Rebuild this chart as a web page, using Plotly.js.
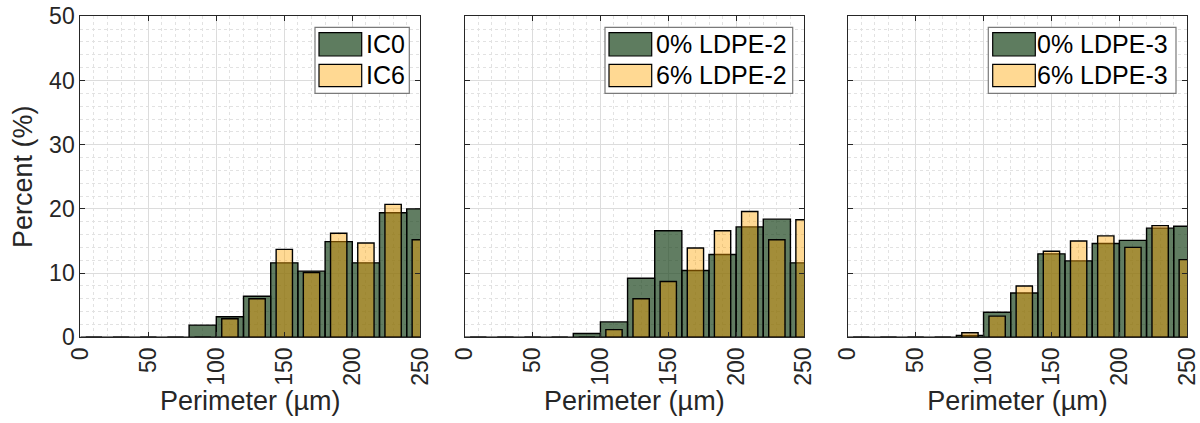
<!DOCTYPE html>
<html>
<head>
<meta charset="utf-8">
<script src="https://cdn.plot.ly/plotly-3.0.1.min.js"></script>
<style>html,body{margin:0;padding:0;background:#fff;}#chart{width:1200px;height:423px;}</style>
</head>
<body>
<div id="chart"></div>
<script>
// ---- data ----
const binCenters = [10, 30, 50, 70, 90, 110, 130, 150, 170, 190, 210, 230, 250];
const ic0   = [0, 0, 0, 0, 1.9, 3.2, 6.4, 11.6, 10.3, 14.9, 11.6, 19.4, 20.0];
const ic6   = [0, 0, 0, 0, 0,   2.9, 6.0, 13.7, 10.1, 16.2, 14.7, 20.7, 15.2];
const ldpe2_0 = [0, 0, 0, 0, 0.6, 2.4, 9.2, 16.6, 10.4, 12.9, 17.2, 18.4, 11.6];
const ldpe2_6 = [0, 0, 0, 0, 0,   1.2, 6.0, 8.7,  13.9, 16.6, 19.6, 15.2, 18.3];
const ldpe3_0 = [0, 0, 0, 0, 0.3, 3.9, 6.9, 13.0, 11.9, 14.6, 15.1, 17.0, 17.3];
const ldpe3_6 = [0, 0, 0, 0, 0.7, 3.3, 8.0, 13.4, 15.0, 15.8, 14.0, 17.4, 12.1];
const names = [["IC0", "IC6"], ["0% LDPE-2", "6% LDPE-2"], ["0% LDPE-3", "6% LDPE-3"]];
const xTicks = [0, 50, 100, 150, 200, 250];
const yTicks = [0, 10, 20, 30, 40, 50];

// ---- styling ----
const W = 1200, H = 423;
const GREEN = 'rgba(30,70,32,0.70)';
const ORANGE = 'rgba(255,165,0,0.42)';
const FONT = '"Liberation Sans", Arial, Helvetica, sans-serif';
const AXC = '#262626';
const px = v => v / W;
const py = v => 1 - v / H;

const panels = [[80.3, 420.3], [464.7, 804.0], [847.7, 1187.3]];
const yTop = 16.3, yBot = 337.3;
const series = [[ic0, ic6], [ldpe2_0, ldpe2_6], [ldpe3_0, ldpe3_6]];

const traces = [];
series.forEach((s, i) => {
  const xa = i === 0 ? 'x' : 'x' + (i + 1);
  const ya = i === 0 ? 'y' : 'y' + (i + 1);
  traces.push({type: 'bar', x: binCenters, y: s[0], width: 20, name: names[i][0], xaxis: xa, yaxis: ya,
    marker: {color: GREEN, line: {color: '#000', width: 1.4}}, showlegend: false, hoverinfo: 'x+y+name'});
  traces.push({type: 'bar', x: binCenters, y: s[1], width: 12, name: names[i][1], xaxis: xa, yaxis: ya,
    marker: {color: ORANGE, line: {color: '#000', width: 1.4}}, showlegend: false, hoverinfo: 'x+y+name'});
});

const layout = {
  width: W, height: H,
  margin: {l: 0, r: 0, t: 0, b: 0},
  paper_bgcolor: '#fff', plot_bgcolor: '#fff',
  barmode: 'overlay', bargap: 0,
  font: {family: FONT, size: 23, color: AXC},
  showlegend: false,
  shapes: [], annotations: []
};

panels.forEach((p, i) => {
  const sfx = i === 0 ? '' : String(i + 1);
  layout['xaxis' + sfx] = {
    domain: [px(p[0]), px(p[1])], anchor: 'y' + sfx, range: [0, 250],
    tickvals: xTicks, ticktext: xTicks.map(String), tickangle: -90,
    ticks: 'inside', ticklen: 5, tickcolor: AXC, tickwidth: 1,
    showline: true, linecolor: AXC, linewidth: 1, mirror: 'ticks',
    showgrid: true, gridcolor: '#dcdcdc', gridwidth: 1, zeroline: false,
    minor: {dtick: 10, showgrid: true, gridcolor: '#e2e2e2', griddash: 'dot', gridwidth: 1},
    tickfont: {family: FONT, size: 23, color: AXC},
    title: {text: 'Perimeter (µm)', font: {family: FONT, size: 27, color: AXC}, standoff: 6},
    fixedrange: true
  };
  layout['yaxis' + sfx] = {
    domain: [py(yBot), py(yTop)], anchor: 'x' + sfx, range: [0, 50],
    tickvals: yTicks, ticktext: yTicks.map(String), showticklabels: i === 0,
    ticks: 'inside', ticklen: 5, tickcolor: AXC, tickwidth: 1,
    showline: true, linecolor: AXC, linewidth: 1, mirror: 'ticks',
    showgrid: true, gridcolor: '#dcdcdc', gridwidth: 1, zeroline: false,
    minor: {dtick: 2, showgrid: true, gridcolor: '#e2e2e2', griddash: 'dot', gridwidth: 1},
    tickfont: {family: FONT, size: 23, color: AXC},
    title: i === 0 ? {text: 'Percent (%)', font: {family: FONT, size: 27, color: AXC}, standoff: 8} : {text: ''},
    fixedrange: true
  };
});

// ---- legends (box, swatches, labels) ----
const legends = [
  {box: [315, 409.3], sw: [319, 361.7], tx: 364},
  {box: [605, 792.7], sw: [609, 651.7], tx: 654},
  {box: [988.3, 1176], sw: [992.7, 1035.3], tx: 1035}
];
legends.forEach((lg, i) => {
  layout.shapes.push({type: 'rect', xref: 'paper', yref: 'paper',
    x0: px(lg.box[0]), x1: px(lg.box[1]), y0: py(93.3), y1: py(27.3),
    fillcolor: '#fff', line: {color: '#7a7a7a', width: 1.2}, layer: 'above'});
  layout.shapes.push({type: 'rect', xref: 'paper', yref: 'paper',
    x0: px(lg.sw[0]), x1: px(lg.sw[1]), y0: py(56), y1: py(32.7),
    fillcolor: '#5e7c5f', line: {color: '#000', width: 1.2}, layer: 'above'});
  layout.shapes.push({type: 'rect', xref: 'paper', yref: 'paper',
    x0: px(lg.sw[0]), x1: px(lg.sw[1]), y0: py(86.7), y1: py(64.3),
    fillcolor: '#ffd993', line: {color: '#000', width: 1.2}, layer: 'above'});
  [44.3, 75.5].forEach((yc, k) => {
    layout.annotations.push({xref: 'paper', yref: 'paper', x: px(lg.tx), y: py(yc),
      xanchor: 'left', yanchor: 'middle', showarrow: false, text: names[i][k],
      font: {family: FONT, size: 25, color: '#000'}});
  });
});

Plotly.newPlot('chart', traces, layout, {staticPlot: true, displayModeBar: false});
</script>
</body>
</html>
